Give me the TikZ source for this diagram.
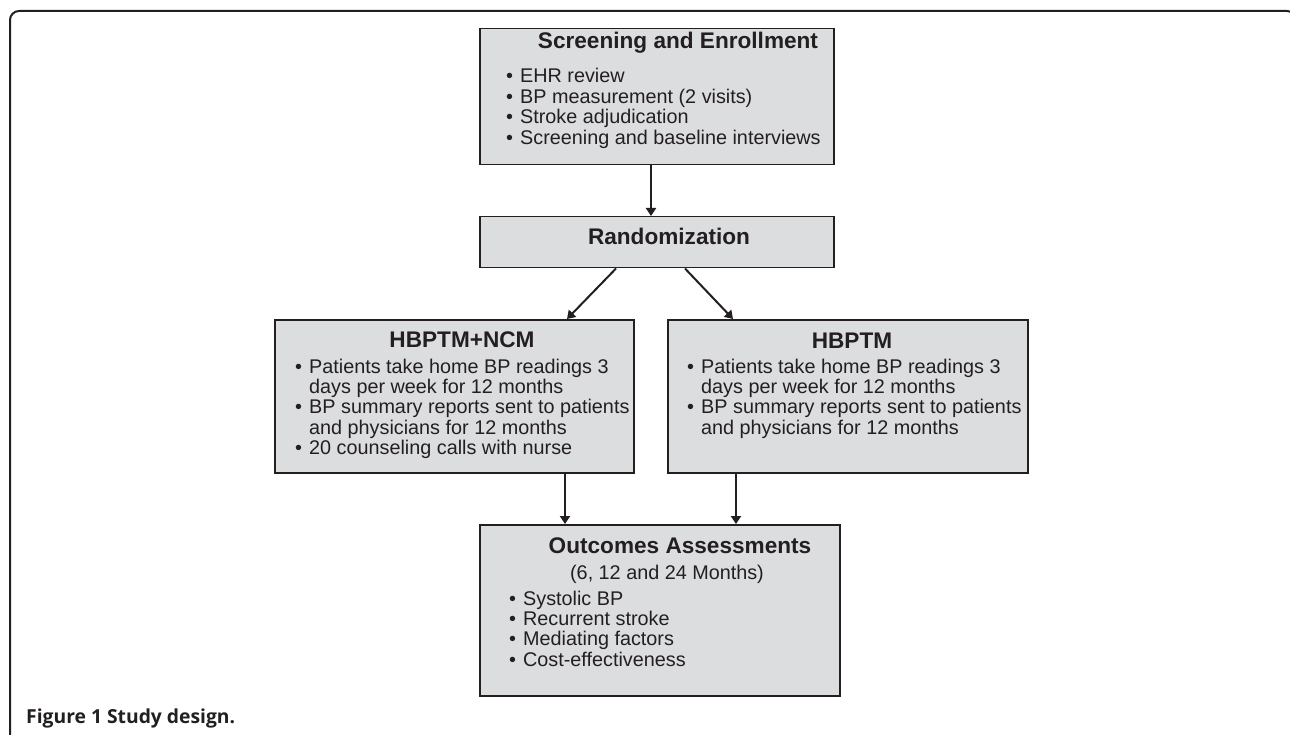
\documentclass[tikz,border=0pt]{standalone}
\usepackage{fontspec}
\setmainfont{Liberation Sans}
\newfontfamily\capfont{Open Sans}
\usetikzlibrary{arrows.meta}

\definecolor{boxgray}{HTML}{DCDDDF}
\definecolor{ink}{HTML}{231F20}

\tikzset{
  stagebox/.style={draw=ink, line width=1.5pt, fill=boxgray, inner sep=0pt, anchor=north west},
  head/.style={font=\fontsize{22.6}{24}\selectfont\bfseries, text=ink, inner sep=0pt, anchor=base},
  body/.style={font=\fontsize{19.8}{20}\selectfont, text=ink, inner sep=0pt, anchor=base west}
}
\newcommand{\bul}{\makebox[14pt][l]{\textbullet}}
\newcommand{\cont}{\hspace*{14pt}}
\newcommand{\blist}[1]{\begin{tabular}[t]{@{}l@{}}#1\end{tabular}}

\begin{document}
\begin{tikzpicture}[x=1pt,y=-1pt]
\clip (0,0) rectangle (1290,735);

% frame and caption
\draw[ink, line width=2pt, rounded corners=9pt] (10,740) -- (10,11) -- (1296,11) -- (1296,40);
\node[anchor=base west, font=\capfont\bfseries\fontsize{19.3}{22}\selectfont, text=ink, inner sep=0pt] (caption) at (26,723) {Figure 1 Study design.};

% boxes
\node[stagebox, minimum width=354pt, minimum height=136pt] (screen) at (479,28) {};
\node[stagebox, minimum width=354pt, minimum height=51pt] (rand) at (479,216) {};
\node[stagebox, minimum width=359pt, minimum height=153pt] (ncm) at (274,319) {};
\node[stagebox, minimum width=360pt, minimum height=153pt] (hbp) at (667,319) {};
\node[stagebox, minimum width=360pt, minimum height=171pt] (outcome) at (479,524) {};

% texts
\node[head] (screenhead) at (678,49) {Screening and Enrollment};
\node[body] (screenlist) at (506,83) {\blist{\bul EHR review\\
  \bul BP measurement (2 visits)\\
  \bul Stroke adjudication\\
  \bul Screening and baseline interviews}};

\node[head] (randhead) at (669,245) {Randomization};

\node[head] (ncmhead) at (462,347) {HBPTM+NCM};
\node[body] (ncmlist) at (295,373) {\blist{\bul Patients take home BP readings 3\\
  \cont days per week for 12 months\\
  \bul BP summary reports sent to patients\\
  \cont and physicians for 12 months\\
  \bul 20 counseling calls with nurse}};

\node[head] (hbphead) at (852,348) {HBPTM};
\node[body] (hbplist) at (687,373) {\blist{\bul Patients take home BP readings 3\\
  \cont days per week for 12 months\\
  \bul BP summary reports sent to patients\\
  \cont and physicians for 12 months}};

\node[head] (outhead) at (680,553) {Outcomes Assessments};
\node[body, anchor=base] (outtime) at (667,579) {(6, 12 and 24 Months)};
\node[body] (outlist) at (509,605) {\blist{\bul Systolic BP\\
  \bul Recurrent stroke\\
  \bul Mediating factors\\
  \bul Cost-effectiveness}};

% arrows
\tikzset{arr/.style={draw=ink, line width=2pt, -{Triangle[width=10pt,length=8pt]}}}
\draw[arr] (screen.south -| 651,0) -- (rand.north -| 651,0);
\draw[arr] (rand.south -| 616,0) -- (ncm.north -| 567,0);
\draw[arr] (rand.south -| 685,0) -- (hbp.north -| 733,0);
\draw[arr] (ncm.south -| 565,0) -- (outcome.north -| 565,0);
\draw[arr] (hbp.south -| 736,0) -- (outcome.north -| 736,0);
\end{tikzpicture}
\end{document}
